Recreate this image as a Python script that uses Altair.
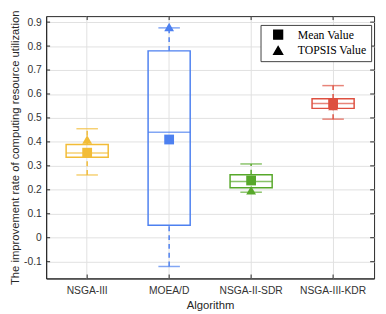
import altair as alt
import pandas as pd

algorithms = ["NSGA-III", "MOEA/D", "NSGA-II-SDR", "NSGA-III-KDR"]
colors = ["#F2BC36", "#4D80F0", "#57A82A", "#DE5040"]
lower = [0.262, -0.120, 0.190, 0.495]
q1 = [0.336, 0.052, 0.209, 0.540]
median = [0.354, 0.440, 0.235, 0.560]
q3 = [0.389, 0.780, 0.263, 0.580]
upper = [0.455, 0.876, 0.308, 0.635]
mean_vals = [0.355, 0.410, 0.239, 0.562]
topsis_vals = [0.410, 0.880, 0.198, 0.550]
y_ticks = [-0.1, 0, 0.1, 0.2, 0.3, 0.4, 0.5, 0.6, 0.7, 0.8, 0.9]

W, H = 335, 268
YTITLE = "The improvement rate of computing resource utilization"

df = pd.DataFrame({
    "Algorithm": algorithms, "lower": lower, "q1": q1, "median": median,
    "q3": q3, "upper": upper, "Mean Value": mean_vals, "TOPSIS Value": topsis_vals,
})

xaxis = alt.Axis(labelAngle=0, ticks=False, domainColor="#262626",
                 gridColor="#e0e0e0", grid=True, labelPadding=7,
                 titlePadding=4, bandPosition=0.5)
xscale = alt.Scale(domain=algorithms, paddingInner=0, paddingOuter=0)
yscale = alt.Scale(domain=[-0.17, 0.925], nice=False, zero=False)
yaxis = alt.Axis(values=y_ticks, ticks=False, domainColor="#262626",
                 gridColor="#e0e0e0", labelPadding=5, titlePadding=3,
                 labelOverlap=False,
                 labelExpr="datum.value < 0 ? '-' + format(-datum.value, '~g') : format(datum.value, '~g')")


def X():
    return alt.X("Algorithm:N", sort=algorithms, title="Algorithm", scale=xscale, axis=xaxis)


def Y(field):
    return alt.Y(field, scale=yscale, axis=yaxis, title=YTITLE)


cenc = alt.Color("Algorithm:N", scale=alt.Scale(domain=algorithms, range=colors), legend=None)

base = alt.Chart(df)

whisk_up = base.mark_rule(strokeWidth=1.5, strokeDash=[5, 4]).encode(
    x=X(), y=Y("q3:Q"), y2="upper:Q", color=cenc)
whisk_lo = base.mark_rule(strokeWidth=1.5, strokeDash=[5, 4]).encode(
    x=X(), y=Y("lower:Q"), y2="q1:Q", color=cenc)
cap_up = base.mark_tick(size=22, thickness=1.5).encode(
    x=X(), y=Y("upper:Q"), color=cenc)
cap_lo = base.mark_tick(size=22, thickness=1.5).encode(
    x=X(), y=Y("lower:Q"), color=cenc)
box = base.mark_bar(size=43, fillOpacity=0, strokeWidth=1.5).encode(
    x=X(), y=Y("q1:Q"), y2="q3:Q", stroke=cenc)
med = base.mark_tick(size=43, thickness=1.5).encode(
    x=X(), y=Y("median:Q"), color=cenc)

pts = base.transform_fold(["Mean Value", "TOPSIS Value"], as_=["kind", "val"]).mark_point(
    filled=True, opacity=1, size=100).encode(
    x=X(), y=Y("val:Q"), color=cenc,
    shape=alt.Shape("kind:N", scale=alt.Scale(domain=["Mean Value", "TOPSIS Value"],
                                               range=["square", "triangle-up"]),
                    legend=alt.Legend(title=None, orient="none", legendX=219, legendY=9,
                                      labelFont="Liberation Serif", labelFontSize=12,
                                      labelColor="black", symbolFillColor="black",
                                      symbolStrokeColor="black", symbolSize=80,
                                      strokeColor="#404040", fillColor="white",
                                      padding=4, rowPadding=1, labelOffset=14,
                                      symbolOffset=8)))

# inward ticks on all four frame sides
ytk = pd.DataFrame({"v": y_ticks})
rt = alt.Chart(ytk).mark_rule(color="#262626", strokeWidth=1).encode(
    y=Y("v:Q"), x=alt.value(W - 4), x2=alt.value(W))
lt = alt.Chart(ytk).mark_rule(color="#262626", strokeWidth=1).encode(
    y=Y("v:Q"), x=alt.value(0), x2=alt.value(4))
xtk = pd.DataFrame({"Algorithm": algorithms})
bt = alt.Chart(xtk).mark_rule(color="#262626", strokeWidth=1).encode(
    x=X(), y=alt.value(H - 4), y2=alt.value(H))
tt = alt.Chart(xtk).mark_rule(color="#262626", strokeWidth=1).encode(
    x=X(), y=alt.value(0), y2=alt.value(4))

chart = alt.layer(whisk_up, whisk_lo, cap_up, cap_lo, box, med, pts, rt, lt, bt, tt).properties(
    width=W, height=H,
    autosize=alt.AutoSizeParams(type="none"),
    padding={"left": 39, "top": 5, "right": 4, "bottom": 33},
).configure_view(stroke="#262626", strokeWidth=1).configure_axis(
    labelFont="Liberation Sans", labelFontSize=10.5, labelColor="#333333",
    titleFont="Liberation Sans", titleFontSize=11.5, titleColor="#262626",
    titleFontWeight="normal",
)

chart.save("out.html", embed_options={"renderer": "svg", "actions": False})
